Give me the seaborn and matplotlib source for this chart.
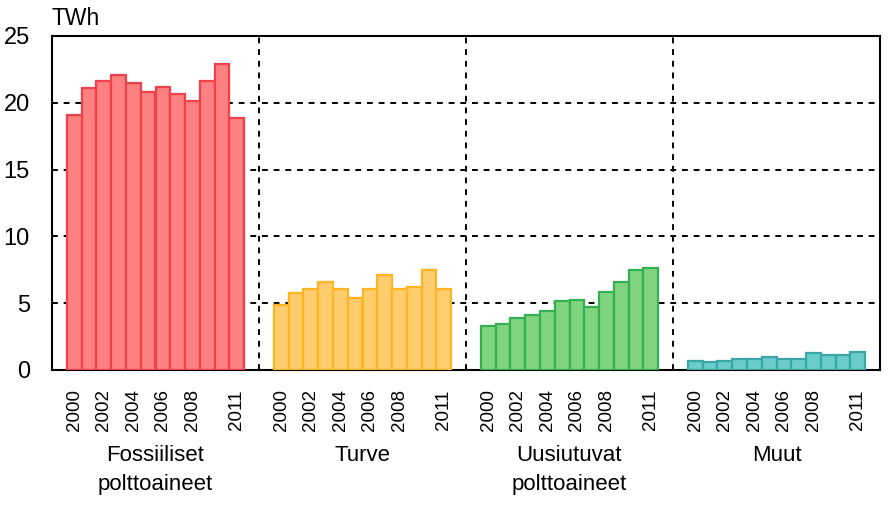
import matplotlib
matplotlib.use("Agg")
import matplotlib.pyplot as plt
import seaborn as sns
import numpy as np

categories = ["Fossiiliset\npolttoaineet", "Turve", "Uusiutuvat\npolttoaineet", "Muut"]
years = list(range(2000, 2012))
tick_years = [2000, 2002, 2004, 2006, 2008, 2011]

fossiiliset = [19.1, 21.1, 21.65, 22.05, 21.5, 20.8, 21.2, 20.65, 20.1, 21.65, 22.9, 18.85]
turve = [4.9, 5.75, 6.1, 6.55, 6.1, 5.4, 6.1, 7.1, 6.1, 6.25, 7.5, 6.1]
uusiutuvat = [3.3, 3.45, 3.9, 4.15, 4.45, 5.15, 5.25, 4.7, 5.85, 6.55, 7.5, 7.65]
muut = [0.7, 0.57, 0.7, 0.85, 0.83, 1.0, 0.83, 0.83, 1.25, 1.1, 1.1, 1.35]
series = [fossiiliset, turve, uusiutuvat, muut]

fills = ["#FF8080", "#FFCC6E", "#80D480", "#6ACCCC"]
edges = ["#F0404A", "#FFB424", "#33B050", "#3AA6A6"]

sns.set_theme(style="white")
plt.rcParams['font.family'] = ['Liberation Sans', 'DejaVu Sans']
plt.rcParams['text.color'] = 'black'
plt.rcParams['xtick.color'] = 'black'
plt.rcParams['ytick.color'] = 'black'

fig = plt.figure(figsize=(8.95, 5.05), dpi=100)
ax = fig.add_axes([52/895, 1-370/505, (880-52)/895, (370-36)/505])

slots = len(years) + 2
for g, vals in enumerate(series):
    xs = [g * slots + 1 + i + 0.5 for i in range(len(years))]
    sns.barplot(x=xs, y=vals, native_scale=True, width=1.0, color=fills[g],
                edgecolor=edges[g], linewidth=1.6, saturation=1, ax=ax, zorder=3)

ax.set_xlim(0, slots * len(series))
ax.set_ylim(0, 25)
ax.set_yticks([0, 5, 10, 15, 20, 25])
ax.set_yticklabels(["0", "5", "10", "15", "20", "25"], fontsize=17, color="black")

for yv in [5, 10, 15, 20]:
    ax.axhline(yv, color="black", lw=1.4, ls=(0, (3, 3)), zorder=1)
for g in range(1, len(series)):
    ax.axvline(g * slots, color="black", lw=1.4, ls=(0, (3, 3)), zorder=1)

tpos, tlab = [], []
for g in range(len(series)):
    for y in tick_years:
        tpos.append(g * slots + 1 + years.index(y) + 0.5)
        tlab.append(str(y))
ax.set_xticks(tpos)
ax.set_xticklabels(tlab, rotation=90, fontsize=13.5, color="black")
ax.tick_params(axis="both", length=0)
ax.tick_params(axis="y", pad=16)
ax.tick_params(axis="x", pad=14)

for g, cat in enumerate(categories):
    ax.text(g * slots + slots / 2, -0.225, cat, transform=ax.get_xaxis_transform(),
            ha="center", va="top", fontsize=16, linespacing=1.5, color="black")

for s in ax.spines.values():
    s.set_visible(True)
    s.set_color("black")
    s.set_linewidth(1.5)

fig.text(52/895, 1-7/505, "TWh", ha="left", va="top", fontsize=16.5, color="black")
ax.set_xlabel("")
ax.set_ylabel("")

fig.savefig("out.png", dpi=100)
